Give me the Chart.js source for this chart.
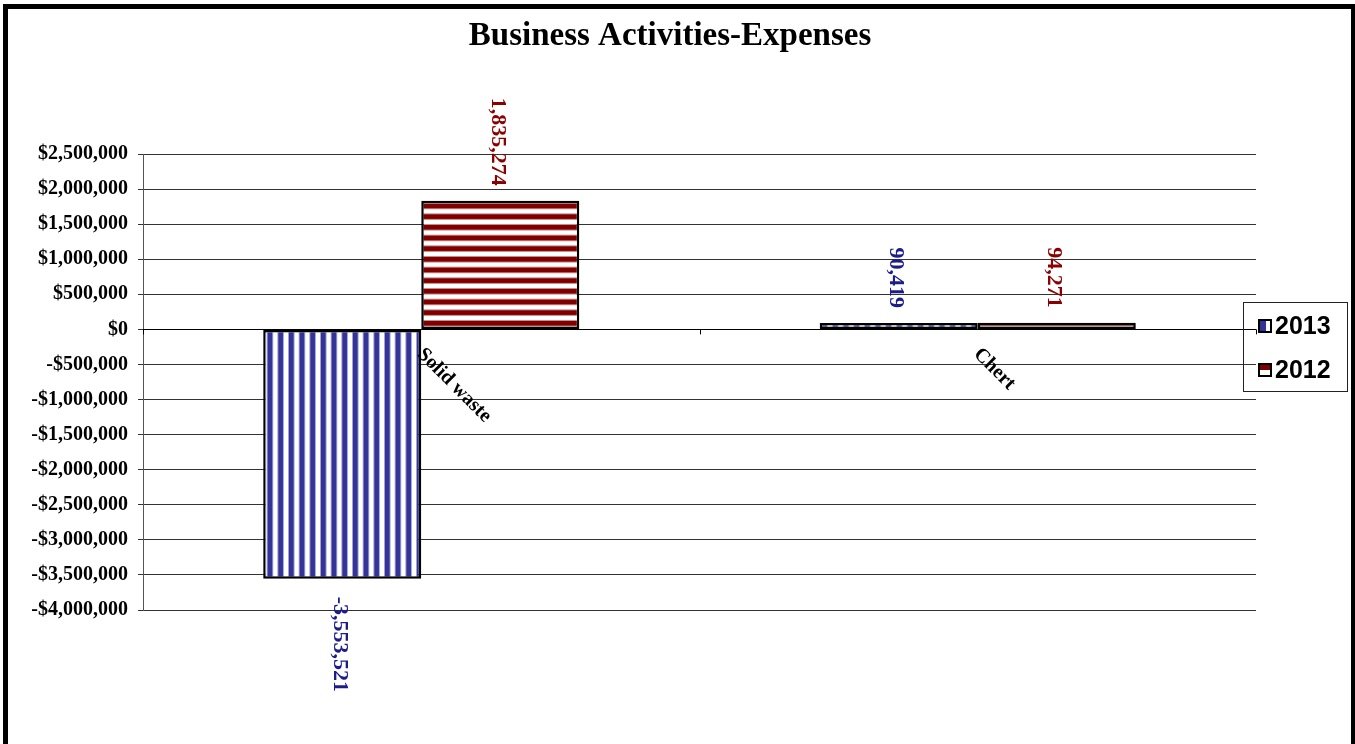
<!DOCTYPE html>
<html>
<head>
<meta charset="utf-8">
<title>Business Activities-Expenses</title>
<script src="https://cdn.jsdelivr.net/npm/chart.js@4"></script>
<style>
  html, body { margin: 0; padding: 0; background: #fff; }
  #chart { display: block; }
</style>
</head>
<body>
<canvas id="chart" width="1355" height="744"></canvas>
<script>
const categories = ['Solid waste', 'Chert'];
const seriesNames = ['2013', '2012'];
const values2013 = [-3553521, 90419];
const values2012 = [1835274, 94271];
const yMin = -4000000;
const yMax = 2500000;
const yStep = 500000;

const BLUE = '#333399';
const RED = '#800000';
const SERIF = '"Liberation Serif", "Times New Roman", serif';
const SANS = '"Liberation Sans", Arial, sans-serif';

// striped fills, three stripes per 32px tile (~10.7px period)
function stripePattern(color, vertical) {
    const c = document.createElement('canvas');
    c.width = 32; c.height = 32;
    const g = c.getContext('2d');
    g.fillStyle = '#fff';
    g.fillRect(0, 0, 32, 32);
    for (let i = 0; i < 3; i++) {
        const p = i * 32 / 3;
        g.globalAlpha = 0.45;
        g.fillStyle = color;
        if (vertical) g.fillRect(p, 0, 6.6, 32); else g.fillRect(0, p, 32, 6.6);
        g.globalAlpha = 1;
        if (vertical) g.fillRect(p + 1, 0, 4.6, 32); else g.fillRect(0, p + 1, 32, 4.6);
    }
    return g.createPattern(c, 'repeat');
}

const fill2013 = stripePattern(BLUE, true);
const fill2012 = stripePattern(RED, false);
const labelColors = ['#1c1c8a', '#8b0000'];

function money(v) {
    const s = '$' + Math.abs(v).toLocaleString('en-US');
    return v < 0 ? '-' + s : s;
}

const framePlugin = {
    id: 'frame',
    beforeDraw(chart) {
        const ctx = chart.ctx;
        ctx.save();
        ctx.fillStyle = '#fff';
        ctx.fillRect(0, 0, chart.width, chart.height);
        ctx.fillStyle = '#000';
        ctx.fillRect(3, 4, 5, chart.height);
        ctx.fillRect(3, 4, chart.width - 3, 5);
        ctx.fillRect(chart.width - 4, 4, 4, chart.height);
        ctx.restore();
    }
};

// zero line category ticks and rotated category names
const categoryAxisPlugin = {
    id: 'categoryAxis',
    afterDatasetsDraw(chart) {
        const ctx = chart.ctx;
        const x = chart.scales.x;
        const y0 = chart.scales.y.getPixelForValue(0);
        ctx.save();
        ctx.strokeStyle = '#000';
        ctx.lineWidth = 1;
        ctx.beginPath();
        ctx.moveTo(chart.chartArea.left, Math.round(y0) + 0.5);
        ctx.lineTo(chart.chartArea.right, Math.round(y0) + 0.5);
        for (let i = 0; i <= categories.length; i++) {
            const px = Math.round(x.getPixelForValue(i - 0.5)) + 0.5;
            ctx.moveTo(px, y0);
            ctx.lineTo(px, y0 + 5);
        }
        ctx.stroke();
        ctx.fillStyle = '#000';
        ctx.font = 'bold 20px ' + SERIF;
        ctx.textAlign = 'left';
        ctx.textBaseline = 'middle';
        categories.forEach((name, i) => {
            const px = x.getPixelForValue(i);
            ctx.save();
            ctx.translate(px - 1, y0 + 22);
            ctx.rotate(Math.PI / 4);
            ctx.fillText(name, 0, 0);
            ctx.restore();
        });
        ctx.restore();
    }
};

// vertical value labels beyond the end of each bar
const valueLabelPlugin = {
    id: 'valueLabels',
    afterDatasetsDraw(chart) {
        const ctx = chart.ctx;
        ctx.save();
        ctx.font = 'bold 22px ' + SERIF;
        ctx.textBaseline = 'middle';
        chart.data.datasets.forEach((ds, di) => {
            const meta = chart.getDatasetMeta(di);
            ctx.fillStyle = labelColors[di];
            meta.data.forEach((bar, i) => {
                const v = ds.data[i];
                const text = v.toLocaleString('en-US');
                ctx.save();
                if (v >= 0) {
                    ctx.translate(bar.x - 3, bar.y - 15);
                    ctx.rotate(Math.PI / 2);
                    ctx.textAlign = 'right';
                } else {
                    ctx.translate(bar.x - 3, bar.y + 18);
                    ctx.rotate(Math.PI / 2);
                    ctx.textAlign = 'left';
                }
                ctx.fillText(text, 0, 0);
                ctx.restore();
            });
        });
        ctx.restore();
    }
};

const legendPlugin = {
    id: 'boxLegend',
    afterDraw(chart) {
        const ctx = chart.ctx;
        const bx = 1243, by = 302, bw = 104, bh = 89;
        ctx.save();
        ctx.strokeStyle = '#222';
        ctx.lineWidth = 1;
        ctx.strokeRect(bx + 0.5, by + 0.5, bw, bh);
        ctx.font = 'bold 25px ' + SANS;
        ctx.textAlign = 'left';
        ctx.textBaseline = 'middle';
        chart.data.datasets.forEach((ds, i) => {
            const cy = by + 24 + i * 44;
            const sx = 1259, sy = cy - 6;
            ctx.fillStyle = '#fff';
            ctx.fillRect(sx, sy, 12, 12);
            if (i === 0) {
                ctx.fillStyle = BLUE;
                ctx.fillRect(sx + 1, sy, 6, 12);
            } else {
                ctx.fillStyle = RED;
                ctx.fillRect(sx, sy + 1, 12, 5);
            }
            ctx.strokeStyle = '#000';
            ctx.lineWidth = 2;
            ctx.strokeRect(sx, sy, 12, 12);
            ctx.fillStyle = '#000';
            ctx.fillText(ds.label, 1275, cy + 1);
        });
        ctx.restore();
    }
};

const barStyle = {
    borderColor: '#000',
    borderWidth: 2.5,
    borderSkipped: false,
    barPercentage: 1,
    categoryPercentage: 0.568
};

new Chart(document.getElementById('chart'), {
    type: 'bar',
    data: {
        labels: categories,
        datasets: [
            { label: seriesNames[0], data: values2013, backgroundColor: fill2013, ...barStyle },
            { label: seriesNames[1], data: values2012, backgroundColor: fill2012, ...barStyle }
        ]
    },
    options: {
        responsive: false,
        animation: false,
        devicePixelRatio: 1,
        layout: { padding: { left: 0, right: 15, top: 0, bottom: 134 } },
        plugins: {
            legend: { display: false },
            tooltip: { enabled: false },
            title: {
                display: true,
                text: 'Business Activities-Expenses',
                color: '#000',
                font: { family: SERIF, size: 33, weight: 'bold' },
                padding: { top: 17, bottom: 97.4 }
            }
        },
        scales: {
            x: { display: false },
            y: {
                min: yMin,
                max: yMax,
                afterFit: s => { s.width = 143; },
                ticks: {
                    stepSize: yStep,
                    color: '#000',
                    padding: 10,
                    font: { family: SERIF, size: 20, weight: 'bold' },
                    callback: v => money(v)
                },
                grid: { color: '#333', lineWidth: 1, tickLength: 5 },
                border: { display: true, color: '#555', width: 1 }
            },
            // empty right-hand gutter where the legend sits
            gutter: {
                type: 'linear',
                position: 'right',
                display: true,
                afterFit: s => { s.width = 84; },
                ticks: { display: false },
                grid: { display: false, drawTicks: false },
                border: { display: false }
            }
        }
    },
    plugins: [framePlugin, categoryAxisPlugin, valueLabelPlugin, legendPlugin]
});
</script>
</body>
</html>
